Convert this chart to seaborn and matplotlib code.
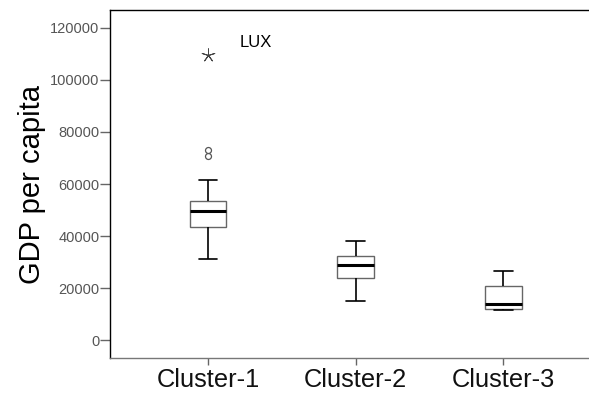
import numpy as np
import pandas as pd
import matplotlib
matplotlib.use("Agg")
import matplotlib.pyplot as plt
import seaborn as sns

# ---- data ----
categories = ["Cluster-1", "Cluster-2", "Cluster-3"]
cluster1 = [31300, 36500, 39800, 42000, 43500, 45200, 46800, 48300, 49500,
            50600, 51800, 52700, 53600, 61500, 70800, 73100, 109600]
cluster2 = [15100, 20500, 24000, 26500, 28800, 30500, 32300, 35000, 37900]
cluster3 = [11400, 11700, 11900, 12900, 13800, 16500, 20800, 23500, 26500]
outlier_labels = {109600: "LUX"}
y_ticks = [0, 20000, 40000, 60000, 80000, 100000, 120000]
y_label = "GDP per capita"

values = [cluster1, cluster2, cluster3]
df = pd.DataFrame({
    "cluster": [c for c, v in zip(categories, values) for _ in v],
    "gdp": [x for v in values for x in v],
})

sns.set_theme(style="white")
plt.rcParams["font.family"] = ["Liberation Sans", "DejaVu Sans"]

fig = plt.figure(figsize=(5.89, 3.94), dpi=100)
ax = fig.add_axes([110 / 589, 36 / 394, 1 - 110 / 589 + 0.01, (358 - 10) / 394])

sns.boxplot(data=df, x="cluster", y="gdp", order=categories, ax=ax,
            width=0.25, showfliers=False, whis=1.5,
            boxprops=dict(facecolor="white", edgecolor="#666666", linewidth=1.0),
            whiskerprops=dict(color="black", linewidth=1.2),
            capprops=dict(color="black", linewidth=1.2),
            medianprops=dict(color="black", linewidth=2.2))

# outliers: mild (circles) and extreme (asterisks), SPSS style
mild_x, mild_y, ext_x, ext_y = [], [], [], []
for c, v in zip(categories, values):
    arr = np.asarray(v)
    q1, q3 = np.percentile(arr, [25, 75])
    iqr = q3 - q1
    for x in arr:
        if x > q3 + 3 * iqr or x < q1 - 3 * iqr:
            ext_x.append(c); ext_y.append(x)
        elif x > q3 + 1.5 * iqr or x < q1 - 1.5 * iqr:
            mild_x.append(c); mild_y.append(x)

sns.stripplot(x=mild_x, y=mild_y, order=categories, jitter=False, ax=ax,
              marker="o", size=4.3, color="white", edgecolor="#555555",
              linewidth=0.9, zorder=3)
sns.stripplot(x=ext_x, y=ext_y, order=categories, jitter=False, ax=ax,
              marker=(5, 2, 0), size=9.5, color="#444444", edgecolor="#444444",
              linewidth=0.7, zorder=3)

for c, yv in zip(ext_x, ext_y):
    if yv in outlier_labels:
        ax.annotate(outlier_labels[yv], xy=(categories.index(c), yv),
                    xytext=(22.5, 9), textcoords="offset points",
                    ha="left", va="center", fontsize=12, color="black")

ax.set_xlim(-0.664, 2.62)
ax.set_ylim(-6900, 126900)
ax.set_yticks(y_ticks)
ax.set_yticklabels([str(t) for t in y_ticks])
ax.set_xlabel("")
ax.set_ylabel(y_label, fontsize=21, color="black", labelpad=3)

ax.tick_params(axis="y", which="both", left=True, length=7, width=1,
               color="#666666", labelsize=10.5, labelcolor="#555555", pad=0.5)
ax.tick_params(axis="x", which="both", bottom=True, length=5, width=1,
               color="#666666", labelsize=18.3, labelcolor="#111111", pad=2)

for side in ["left", "top"]:
    ax.spines[side].set_visible(True)
    ax.spines[side].set_color("black")
    ax.spines[side].set_linewidth(1.0)
ax.spines["bottom"].set_color("#777777")
ax.spines["bottom"].set_linewidth(1.0)
ax.spines["right"].set_visible(False)
ax.grid(False)

fig.savefig("out.png", dpi=100)
